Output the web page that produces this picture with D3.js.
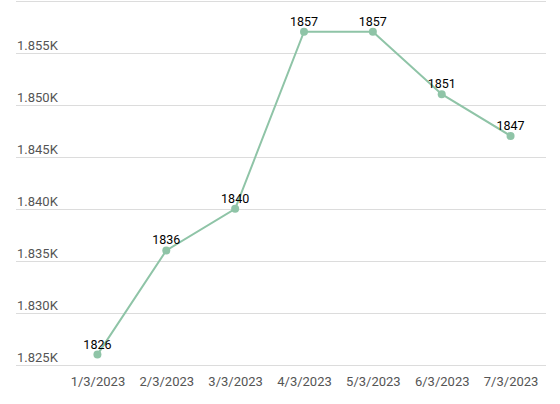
<!DOCTYPE html>
<html><head><meta charset="utf-8">
<script src="https://cdn.jsdelivr.net/npm/d3@7"></script>
<style>body{margin:0;background:#fff}svg{display:block;font-family:Roboto,sans-serif}</style>
</head><body><svg id="c" width="560" height="404"></svg>
<script>
const categories = ["1/3/2023","2/3/2023","3/3/2023","4/3/2023","5/3/2023","6/3/2023","7/3/2023"];
const values = [1826,1836,1840,1857,1857,1851,1847];
const yTicks = [1825,1830,1835,1840,1845,1850,1855,1860];
const yTickLabels = ["1.825K","1.830K","1.835K","1.840K","1.845K","1.850K","1.855K",""];

const svg = d3.select("#c");
const x = d3.scalePoint().domain(categories).range([63,545]).padding(0.5);
const y = d3.scaleLinear().domain([1825,1860]).range([365,0.5]);
const gl = 16, gr = 546;

const grid = svg.append("g");
yTicks.forEach((t,i)=>{
  const yy = Math.round(y(t))+0.5;
  grid.append("line").attr("x1",gl).attr("x2",gr).attr("y1",yy).attr("y2",yy)
    .attr("stroke","#dcdcdc").attr("stroke-width",1);
  if(yTickLabels[i]) grid.append("text").attr("x",gl+1).attr("y",yy-4)
    .attr("font-size",13).attr("fill","#555").text(yTickLabels[i]);
});

const xa = svg.append("g").attr("transform","translate(0,366)")
  .call(d3.axisBottom(x).tickSize(0).tickPadding(11));
xa.select(".domain").remove();
xa.selectAll("text").attr("font-size",13).attr("fill","#555").attr("font-family","Roboto,sans-serif");

const data = categories.map((c,i)=>({c,v:values[i]}));
svg.append("path").datum(data)
  .attr("d",d3.line().x(d=>x(d.c)).y(d=>y(d.v)))
  .attr("fill","none").attr("stroke","#8fc4a7").attr("stroke-width",2);
svg.selectAll("circle.p").data(data).join("circle")
  .attr("cx",d=>x(d.c)).attr("cy",d=>y(d.v)).attr("r",4).attr("fill","#8fc4a7");
svg.selectAll("text.l").data(data).join("text").attr("class","l")
  .attr("x",d=>x(d.c)).attr("y",d=>y(d.v)-6).attr("text-anchor","middle")
  .attr("font-size",12.5).attr("fill","#000").text(d=>d.v);
</script></body></html>
